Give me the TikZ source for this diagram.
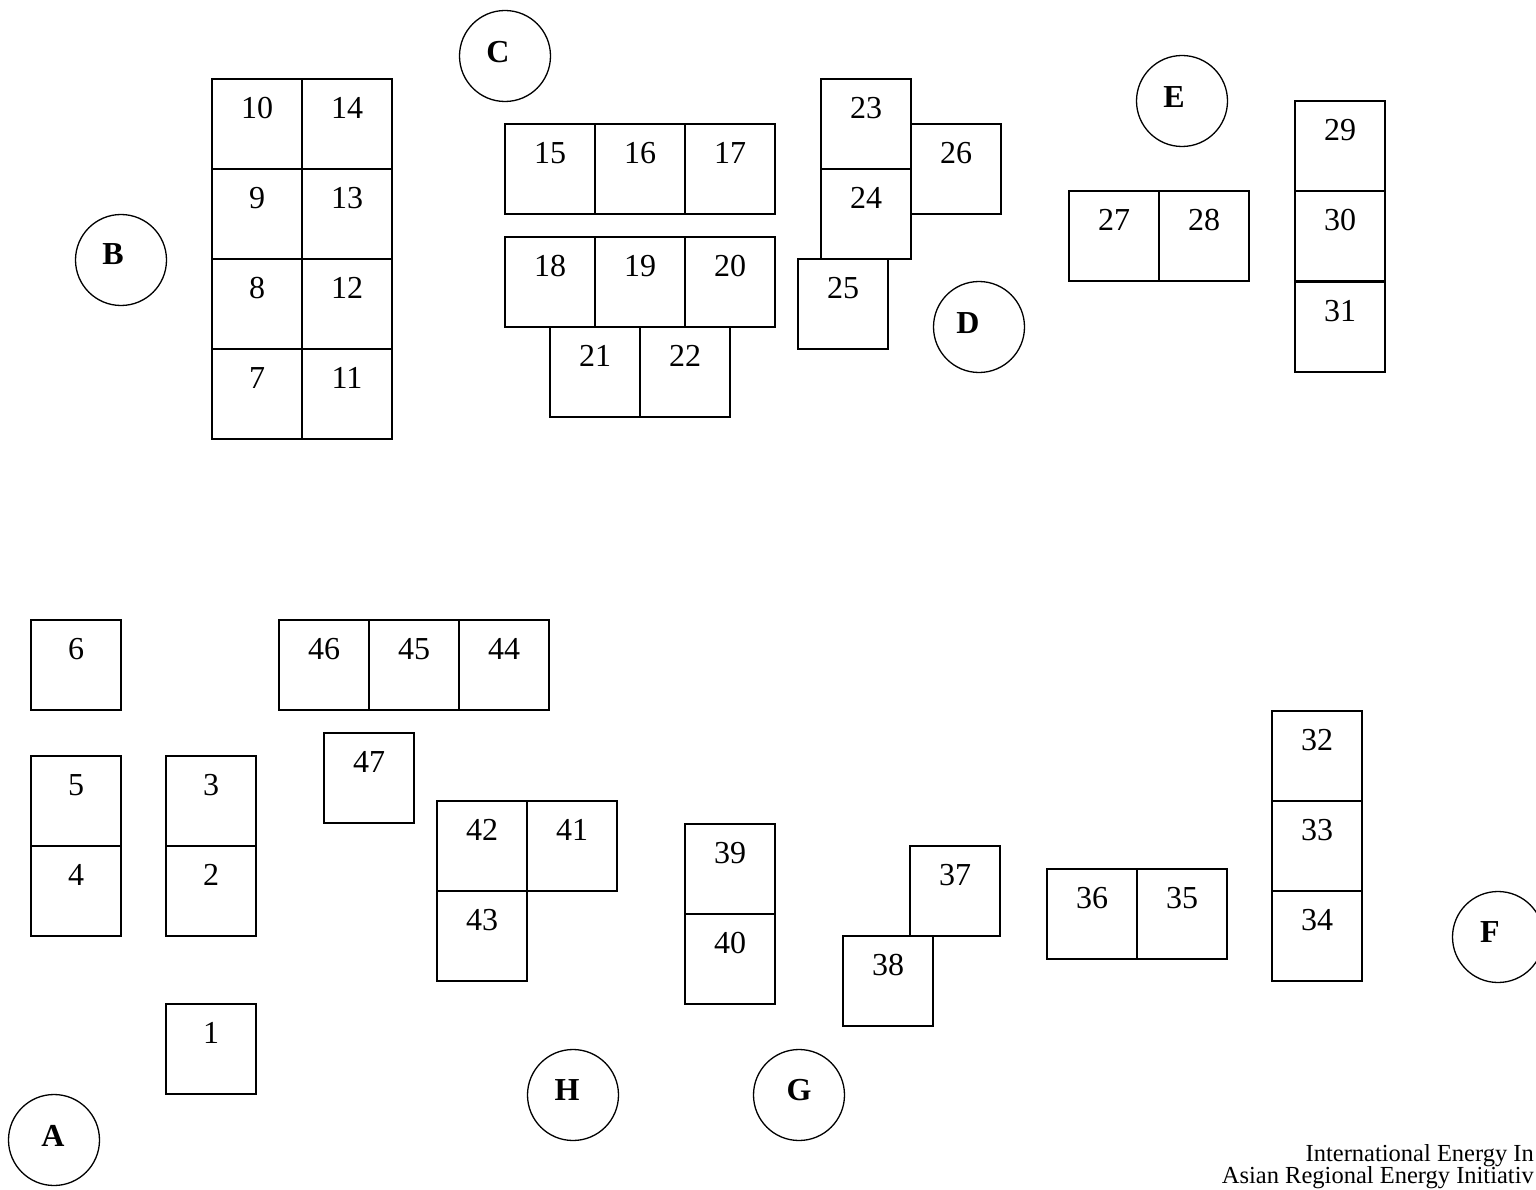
\documentclass[tikz,border=0pt]{standalone}
\usepackage{fontspec}
\setmainfont{Liberation Serif}
\tikzset{
  numlab/.style={anchor=center, yshift=-29pt, inner sep=0pt, font=\fontsize{32}{38}\selectfont},
  cell/.style={draw, line width=1.3pt, minimum width=90pt, minimum height=90pt, inner sep=0pt, outer sep=0pt, anchor=north west, label={[numlab]north:#1}},
  letlab/.style={anchor=center, inner sep=0pt, font=\fontsize{32}{38}\selectfont\bfseries},
  circ/.style={draw, circle, line width=1.3pt, minimum size=91pt, inner sep=0pt},
  foot/.style={anchor=base east, inner sep=0pt, font=\fontsize{24.5}{28}\selectfont}
}
\begin{document}
\begin{tikzpicture}[x=1pt,y=-1pt]
\useasboundingbox (0,0) rectangle (1536,1190);
\clip (0,0) rectangle (1536,1190);
% block 7-14
\node[cell=10] (b10) at (212,79) {};
\node[cell=14] (b14) at (302,79) {};
\node[cell=9] (b9) at (212,169) {};
\node[cell=13] (b13) at (302,169) {};
\node[cell=8] (b8) at (212,259) {};
\node[cell=12] (b12) at (302,259) {};
\node[cell=7] (b7) at (212,349) {};
\node[cell=11] (b11) at (302,349) {};
% 15-22
\node[cell=15] (b15) at (505,124) {};
\node[cell=16] (b16) at (595,124) {};
\node[cell=17] (b17) at (685,124) {};
\node[cell=18] (b18) at (505,237) {};
\node[cell=19] (b19) at (595,237) {};
\node[cell=20] (b20) at (685,237) {};
\node[cell=21] (b21) at (550,327) {};
\node[cell=22] (b22) at (640,327) {};
% 23-26
\node[cell=23] (b23) at (821,79) {};
\node[cell=24] (b24) at (821,169) {};
\node[cell=26] (b26) at (911,124) {};
\node[cell=25] (b25) at (798,259) {};
% 27-31
\node[cell=27] (b27) at (1069,191) {};
\node[cell=28] (b28) at (1159,191) {};
\node[cell=29] (b29) at (1295,101) {};
\node[cell=30] (b30) at (1295,191) {};
\node[cell=31] (b31) at (1295,282) {};
% lower left
\node[cell=6] (b6) at (31,620) {};
\node[cell=5] (b5) at (31,756) {};
\node[cell=4] (b4) at (31,846) {};
\node[cell=3] (b3) at (166,756) {};
\node[cell=2] (b2) at (166,846) {};
\node[cell=1] (b1) at (166,1004) {};
% 44-47
\node[cell=46] (b46) at (279,620) {};
\node[cell=45] (b45) at (369,620) {};
\node[cell=44] (b44) at (459,620) {};
\node[cell=47] (b47) at (324,733) {};
% 41-43
\node[cell=42] (b42) at (437,801) {};
\node[cell=41] (b41) at (527,801) {};
\node[cell=43] (b43) at (437,891) {};
% 39-40
\node[cell=39] (b39) at (685,824) {};
\node[cell=40] (b40) at (685,914) {};
% 37-38
\node[cell=37] (b37) at (910,846) {};
\node[cell=38] (b38) at (843,936) {};
% 35-36
\node[cell=36] (b36) at (1047,869) {};
\node[cell=35] (b35) at (1137,869) {};
% 32-34
\node[cell=32] (b32) at (1272,711) {};
\node[cell=33] (b33) at (1272,801) {};
\node[cell=34] (b34) at (1272,891) {};
% circles
\node[circ, label={[letlab, xshift=-1pt, yshift=4pt]center:A}] (cA) at (54,1140) {};
\node[circ, label={[letlab, xshift=-8pt, yshift=6pt]center:B}] (cB) at (121,260) {};
\node[circ, label={[letlab, xshift=-7pt, yshift=4pt]center:C}] (cC) at (505,56) {};
\node[circ, label={[letlab, xshift=-11pt, yshift=4pt]center:D}] (cD) at (979,327) {};
\node[circ, label={[letlab, xshift=-8pt, yshift=4pt]center:E}] (cE) at (1182,101) {};
\node[circ, label={[letlab, xshift=-8pt, yshift=5pt]center:F}] (cF) at (1498,937) {};
\node[circ, label={[letlab, xshift=0pt, yshift=5pt]center:G}] (cG) at (799,1095) {};
\node[circ, label={[letlab, xshift=-6pt, yshift=5pt]center:H}] (cH) at (573,1095) {};
% footer
\node[foot] (f1) at (1534,1161) {International Energy In};
\node[foot] (f2) at (1534,1183) {Asian Regional Energy Initiativ};
\end{tikzpicture}
\end{document}
